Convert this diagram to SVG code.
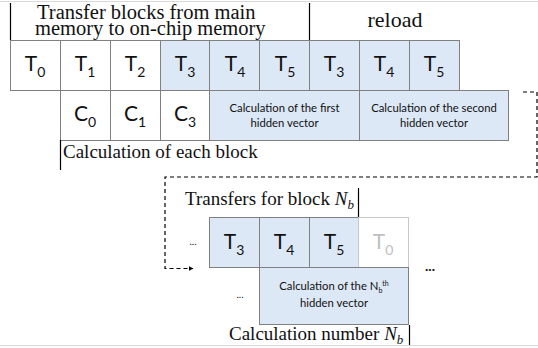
<svg xmlns="http://www.w3.org/2000/svg" width="538" height="348" viewBox="0 0 538 348">
<defs>
<marker id="arr" viewBox="0 0 10 10" refX="9" refY="5" markerWidth="5" markerHeight="5" orient="auto" markerUnits="userSpaceOnUse"><path d="M0,0 L10,5 L0,10 z" fill="#000"/></marker>
<style>
.serif{font-family:"Liberation Serif","Times New Roman",serif;fill:#111;}
.sans{font-family:Lato,"Open Sans",sans-serif;fill:#111;}
.cell{fill:#fff;stroke:#808080;stroke-width:1;}
.blue{fill:#dce8f6;stroke:#808080;stroke-width:1;}
.ghost{fill:#fff;stroke:#c8c8c8;stroke-width:1;}
.t{font-size:21px;text-anchor:middle;}
.s{font-size:14px;}
.calc{font-size:11.3px;text-anchor:middle;}
.mark{stroke:#000;stroke-width:1.2;fill:none;}
.frame{stroke:#d9d9d9;stroke-width:1;}
</style>
</defs>
<rect x="0" y="0" width="538" height="348" fill="#fff"/>
<line class="frame" x1="0" y1="1.5" x2="538" y2="1.5"/>
<line class="frame" x1="0" y1="345.5" x2="538" y2="345.5"/>

<g id="header">
<line class="mark" x1="10.5" y1="3" x2="10.5" y2="40"/>
<line class="mark" x1="309.5" y1="3" x2="309.5" y2="40"/>
<text class="serif" x="37" y="19" font-size="20.5">Transfer blocks from main</text>
<text class="serif" x="35" y="35" font-size="20.5">memory to on-chip memory</text>
<text class="serif" x="395" y="27" font-size="22" text-anchor="middle">reload</text>
</g>

<g id="row-transfer">
<g id="T0a"><rect class="cell" x="10.5" y="40.5" width="50" height="50"/><text class="sans t" x="35" y="71">T<tspan class="s" dy="6">0</tspan></text></g>
<g id="T1a"><rect class="cell" x="60.5" y="40.5" width="50" height="50"/><text class="sans t" x="85" y="71">T<tspan class="s" dy="6">1</tspan></text></g>
<g id="T2a"><rect class="cell" x="110.5" y="40.5" width="50" height="50"/><text class="sans t" x="135" y="71">T<tspan class="s" dy="6">2</tspan></text></g>
<g id="T3a"><rect class="blue" x="160.5" y="40.5" width="49" height="50"/><text class="sans t" x="185" y="71">T<tspan class="s" dy="6">3</tspan></text></g>
<g id="T4a"><rect class="blue" x="209.5" y="40.5" width="50" height="50"/><text class="sans t" x="235" y="71">T<tspan class="s" dy="6">4</tspan></text></g>
<g id="T5a"><rect class="blue" x="259.5" y="40.5" width="50" height="50"/><text class="sans t" x="285" y="71">T<tspan class="s" dy="6">5</tspan></text></g>
<g id="T3b"><rect class="blue" x="309.5" y="40.5" width="50" height="50"/><text class="sans t" x="334" y="71">T<tspan class="s" dy="6">3</tspan></text></g>
<g id="T4b"><rect class="blue" x="359.5" y="40.5" width="50" height="50"/><text class="sans t" x="384" y="71">T<tspan class="s" dy="6">4</tspan></text></g>
<g id="T5b"><rect class="blue" x="409.5" y="40.5" width="50" height="50"/><text class="sans t" x="434" y="71">T<tspan class="s" dy="6">5</tspan></text></g>
</g>

<g id="row-calc">
<g id="C0"><rect class="cell" x="60.5" y="90.5" width="50" height="50"/><text class="sans t" x="85" y="121">C<tspan class="s" dy="6">0</tspan></text></g>
<g id="C1"><rect class="cell" x="110.5" y="90.5" width="50" height="50"/><text class="sans t" x="135" y="121">C<tspan class="s" dy="6">1</tspan></text></g>
<g id="C3"><rect class="cell" x="160.5" y="90.5" width="49" height="50"/><text class="sans t" x="185" y="121">C<tspan class="s" dy="6">3</tspan></text></g>
<g id="calc-first"><rect class="blue" x="209.5" y="90.5" width="150" height="50"/><text class="sans calc" x="284.5" y="112">Calculation of the first</text><text class="sans calc" x="284.5" y="127">hidden vector</text></g>
<g id="calc-second"><rect class="blue" x="359.5" y="90.5" width="149" height="50"/><text class="sans calc" x="434" y="112">Calculation of the second</text><text class="sans calc" x="434" y="127">hidden vector</text></g>
<g id="calc-label">
<line class="mark" x1="60.5" y1="140" x2="60.5" y2="170"/>
<text class="serif" x="63" y="158" font-size="19">Calculation of each block</text>
</g>
</g>

<g id="connectors">
<path d="M523,92 H537 V177 H165 V268.5 H193" fill="none" stroke="#000" stroke-width="1.2" stroke-dasharray="4,3" marker-end="url(#arr)"/>
</g>

<g id="block-nb">
<g id="nb-label">
<text class="serif" x="185" y="205" font-size="19">Transfers for block <tspan font-style="italic">N</tspan><tspan font-style="italic" font-size="13" dy="4">b</tspan></text>
<line class="mark" x1="358.5" y1="188" x2="358.5" y2="217"/>
</g>
<text class="sans" x="193" y="245" font-size="10" text-anchor="middle">...</text>
<g id="T3n"><rect class="blue" x="209.5" y="217.5" width="50" height="50"/><text class="sans t" x="234" y="249">T<tspan class="s" dy="6">3</tspan></text></g>
<g id="T4n"><rect class="blue" x="259.5" y="217.5" width="50" height="50"/><text class="sans t" x="284" y="249">T<tspan class="s" dy="6">4</tspan></text></g>
<g id="T5n"><rect class="blue" x="309.5" y="217.5" width="49" height="50"/><text class="sans t" x="334" y="249">T<tspan class="s" dy="6">5</tspan></text></g>
<g id="T0n"><rect class="ghost" x="358.5" y="217.5" width="50" height="50"/><text class="sans t" x="383" y="249" style="fill:#c0c0c0">T<tspan class="s" dy="6">0</tspan></text></g>
<text class="sans" x="430" y="271" font-size="14" font-weight="bold" text-anchor="middle">...</text>
<text class="sans" x="240" y="298" font-size="10" text-anchor="middle">...</text>
<g id="calc-nb"><rect class="blue" x="259.5" y="267.5" width="149" height="57"/><text class="sans calc" x="334" y="290">Calculation of the N<tspan font-size="7" dy="3">b</tspan><tspan font-size="7" dy="-7">th</tspan></text><text class="sans calc" x="334" y="307">hidden vector</text></g>
<g id="nb-calc-label">
<line class="mark" x1="409.5" y1="325" x2="409.5" y2="345"/>
<text class="serif" x="229" y="340" font-size="19">Calculation number <tspan font-style="italic">N</tspan><tspan font-style="italic" font-size="13" dy="4">b</tspan></text>
</g>
</g>
</svg>
